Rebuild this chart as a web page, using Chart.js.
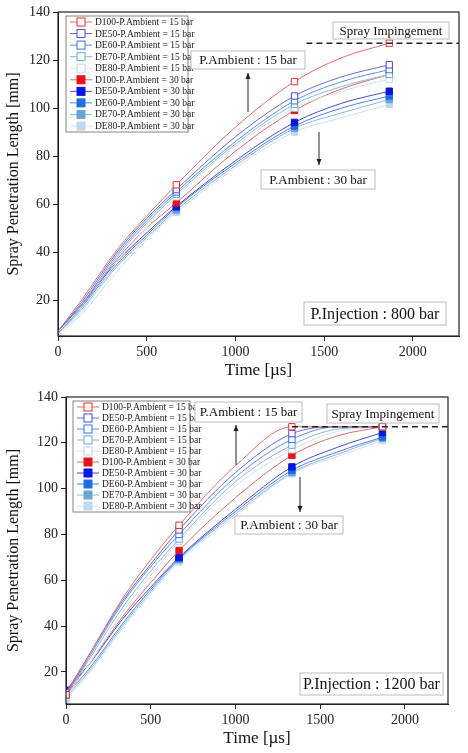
<!DOCTYPE html><html><head><meta charset="utf-8">
<script src="https://cdn.jsdelivr.net/npm/chart.js@4/dist/chart.umd.min.js"></script>
<style>body{margin:0;background:#fff;width:468px;height:753px;overflow:hidden}div{position:relative}</style></head><body>
<div style="width:468px;height:385px"><canvas id="c1"></canvas></div>
<div style="width:468px;height:368px"><canvas id="c2"></canvas></div>
<script>
const seriesNames=["D100-P.Ambient = 15 bar","DE50-P.Ambient = 15 bar","DE60-P.Ambient = 15 bar","DE70-P.Ambient = 15 bar","DE80-P.Ambient = 15 bar","D100-P.Ambient = 30 bar","DE50-P.Ambient = 30 bar","DE60-P.Ambient = 30 bar","DE70-P.Ambient = 30 bar","DE80-P.Ambient = 30 bar"];
const times=[0,133,333,500,667,1000,1333,1600,1867];
const xTicks=[0,500,1000,1500,2000];
const yTicks=[20,40,60,80,100,120,140];
const impingement=127;
// P.Injection 800 bar
const top800=[
[7,20,41,55,68,92,111,121,127],
[7,19,40,54,66,88,105,113,118],
[7,18,39,53,65,86,103,111,116],
[6,17,38,52,64,85,101.5,109,114],
[6,15,36,50,63,84,100,107,112],
[7,18,37,50,60.5,82,99,108,114],
[7,18,36,48,59,78,94,102,107],
[6,17,35,47,58.5,77,92.5,100,105],
[6,16,34,46,57.5,76,91.5,98,103.5],
[5,14,32,45,56.5,75,90,96,101.5]];
// P.Injection 1200 bar
const bot1200=[
[10,27,52,69,84,110,127,127,127],
[11,27,51,67,82,107,124,127,127],
[10,26,50,66,80,105,121.5,127,127],
[10,25,48,64,78,103,119,126,127],
[9,23,46,62,77,101,117,125,127],
[10,23,44,59,73,96,114.5,123,127],
[12,23,43,57,70,91,109.5,118,124.5],
[10,21,41,56,69.5,90,108,116,122.5],
[9,20,40,55,69,89,107,115,122],
[8,19,39,54,68,88,106.5,114,121]];
const colors=["#e8302c","#4a4ad8","#2a74e0","#6aa6d8","#bcd6ee","#e8101a","#0a14e0","#1c6ee0","#6aa4d4","#c0d8ee"];
const lineColors=["#e86a6a","#6a6ad8","#5a90e0","#8ab8e0","#cfe2f2","#e06a6a","#4a4ad0","#4a84dc","#8ab6de","#cde0f0"];
const markerIdx=[4,6,8];

function makeChart(id,data,cfg){
  const datasets=data.map((v,i)=>({label:seriesNames[i],data:times.map((t,j)=>({x:t,y:v[j]})),
    borderColor:lineColors[i],borderWidth:1,tension:0.4,cubicInterpolationMode:'monotone',
    pointStyle:'rect',pointRadius:times.map((t,j)=>(markerIdx.includes(j)||(cfg.startMarker&&j===0))?4.5:0),
    pointBackgroundColor:i<5?'#fff':colors[i],pointBorderColor:colors[i],pointBorderWidth:1}));
  const F='"Liberation Serif", serif';
  const deco={id:'deco',afterDraw(ch){
    const c=ch.ctx,a=ch.chartArea,xs=ch.scales.x,ys=ch.scales.y;
    c.save();
    c.strokeStyle='#222';c.lineWidth=1.2;c.strokeRect(a.left,a.top,a.right-a.left,a.bottom-a.top);
    c.setLineDash([6,4]);c.lineWidth=1.5;c.beginPath();
    c.moveTo(xs.getPixelForValue(cfg.dashFrom),ys.getPixelForValue(impingement));c.lineTo(a.right,ys.getPixelForValue(impingement));c.stroke();c.setLineDash([]);
    const L=cfg.legend;c.fillStyle='#fff';c.fillRect(L.x,L.y,L.w,L.h);c.strokeStyle='#666';c.lineWidth=0.8;c.strokeRect(L.x,L.y,L.w,L.h);
    c.font='9.5px '+F;c.textBaseline='middle';
    seriesNames.forEach((n,i)=>{const yy=L.y+6+i*(L.h-12)/9;
      c.strokeStyle=lineColors[i];c.lineWidth=1;c.beginPath();c.moveTo(L.x+4,yy);c.lineTo(L.x+26,yy);c.stroke();
      c.fillStyle=i<5?'#fff':colors[i];c.fillRect(L.x+11,yy-4,8,8);c.strokeStyle=colors[i];c.strokeRect(L.x+11,yy-4,8,8);
      c.fillStyle='#222';c.fillText(n,L.x+29,yy+0.5);});
    cfg.boxes.forEach(b=>{c.fillStyle='#fff';c.fillRect(b.x,b.y,b.w,b.h);c.strokeStyle='#bbb';c.strokeRect(b.x,b.y,b.w,b.h);
      c.fillStyle='#111';c.font=b.f+'px '+F;c.textAlign='center';c.fillText(b.t,b.x+b.w/2,b.y+b.h/2+1);c.textAlign='left';});
    cfg.arrows.forEach(r=>{c.strokeStyle='#222';c.fillStyle='#222';c.lineWidth=1;c.beginPath();c.moveTo(r.x,r.y1);c.lineTo(r.x,r.y2);c.stroke();
      const d=r.y2>r.y1?1:-1;c.beginPath();c.moveTo(r.x,r.y2);c.lineTo(r.x-2.5,r.y2-d*6);c.lineTo(r.x+2.5,r.y2-d*6);c.closePath();c.fill();});
    c.restore();}};
  return new Chart(document.getElementById(id),{type:'line',data:{datasets},plugins:[deco],
    options:{responsive:true,maintainAspectRatio:false,animation:false,
      layout:{padding:{top:12,right:cfg.padR}},
      plugins:{legend:{display:false},tooltip:{enabled:false}},
      scales:{
        x:{type:'linear',min:0,max:cfg.xmax,afterBuildTicks:s=>{s.ticks=xTicks.map(v=>({value:v}))},
          afterFit:s=>{s.height=49},grid:{drawOnChartArea:false,tickLength:5,color:'#222'},border:{color:'#222'},
          ticks:{color:'#222',font:{family:F,size:14},maxRotation:0,callback:v=>String(v)},
          title:{display:true,text:'Time [µs]',color:'#111',font:{family:F,size:17},padding:{top:0}}},
        y:{min:cfg.ymin,max:140,afterBuildTicks:s=>{s.ticks=yTicks.map(v=>({value:v}))},
          afterFit:s=>{s.width=cfg.yw},grid:{drawOnChartArea:false,tickLength:5,color:'#222'},border:{color:'#222'},
          ticks:{color:'#222',font:{family:F,size:14},callback:v=>String(v)},
          title:{display:true,text:'Spray Penetration Length [mm]',color:'#111',font:{family:F,size:16},padding:{bottom:2}}}}}});
}
makeChart('c1',top800,{xmax:2260,ymin:5,yw:58,padR:9,dashFrom:1400,startMarker:false,
  legend:{x:66,y:16,w:122,h:116},
  boxes:[{t:'Spray Impingement',x:333,y:22,w:116,h:17,f:13},{t:'P.Ambient : 15 bar',x:191,y:51,w:114,h:18,f:13},
         {t:'P.Ambient : 30 bar',x:261,y:170,w:114,h:19,f:13},{t:'P.Injection : 800 bar',x:304,y:302,w:142,h:23,f:16}],
  arrows:[{x:248,y1:112,y2:73},{x:319,y1:132,y2:165}]});
makeChart('c2',bot1200,{xmax:2254,ymin:6,yw:66,padR:20,dashFrom:1333,startMarker:true,
  legend:{x:73,y:16,w:117,h:111},
  boxes:[{t:'P.Ambient : 15 bar',x:195,y:17,w:107,h:20,f:13},{t:'Spray Impingement',x:327,y:19,w:112,h:19,f:13},
         {t:'P.Ambient : 30 bar',x:235,y:131,w:108,h:18,f:13},{t:'P.Injection : 1200 bar',x:300,y:288,w:143,h:22,f:16}],
  arrows:[{x:236,y1:80,y2:40},{x:300,y1:92,y2:127}]});
</script></body></html>
